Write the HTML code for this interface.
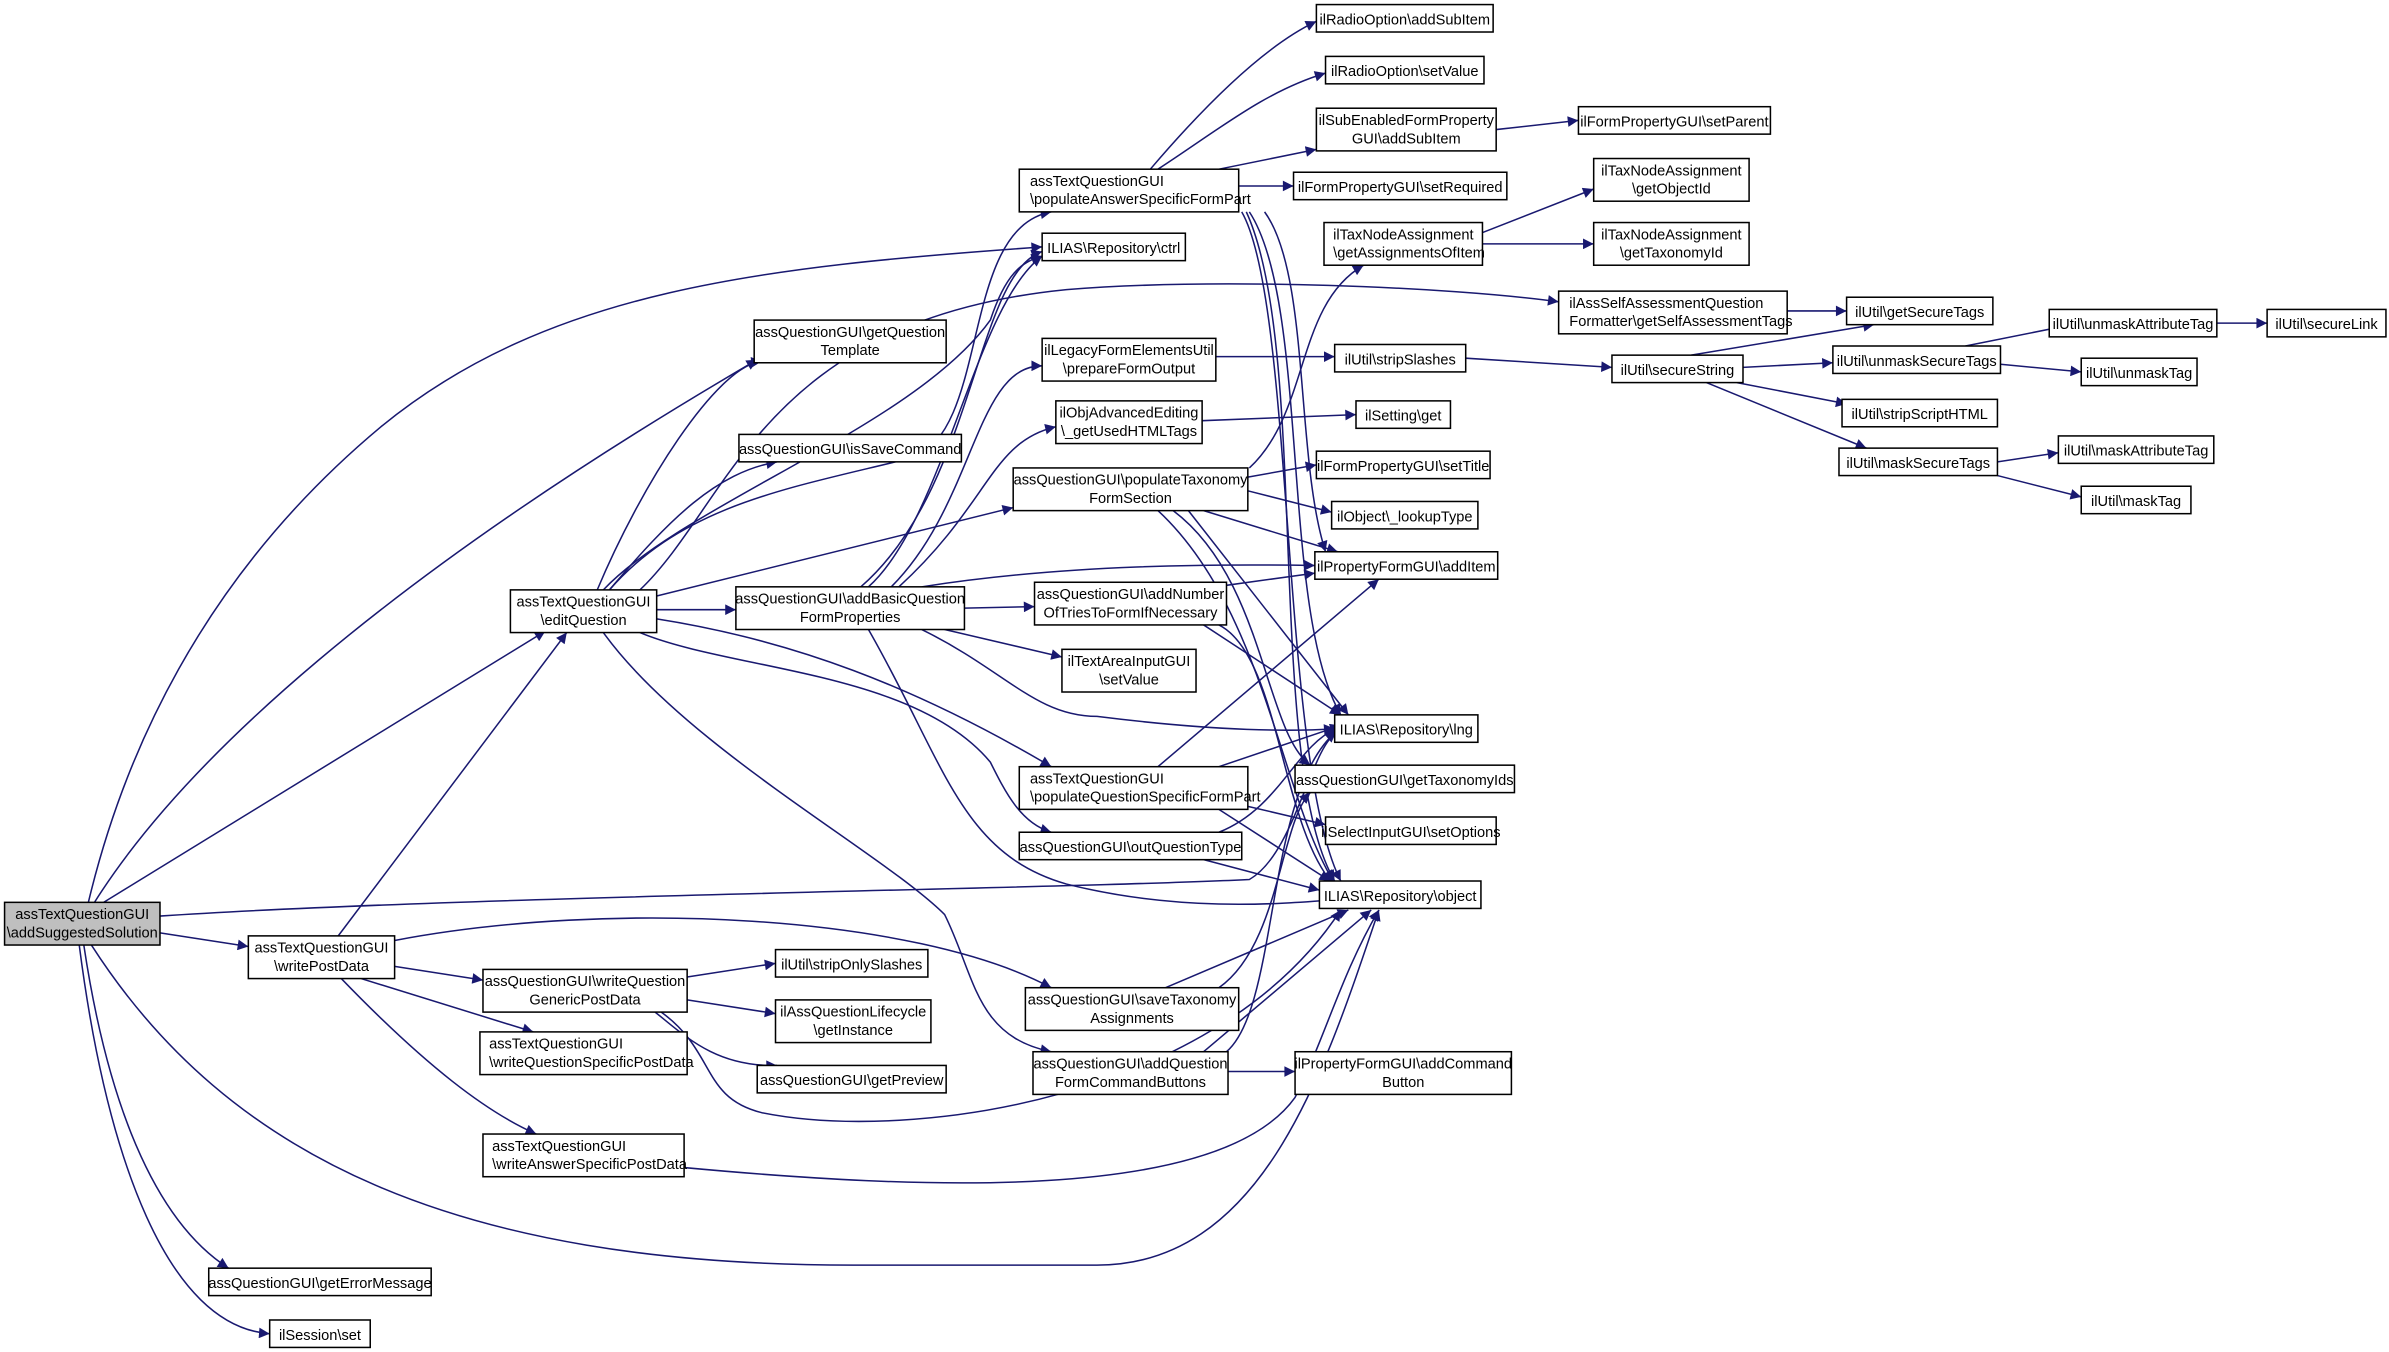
<!DOCTYPE html>
<html><head><meta charset="utf-8"><style>
html,body{margin:0;padding:0;background:#fff;}
svg{display:block;}
text{font-family:"Liberation Sans",Arial,sans-serif;font-size:9.6px;fill:#000;}
.n{fill:#fff;stroke:#000;stroke-width:1;}
.e{fill:none;stroke:#191970;stroke-width:1;}
</style></head><body>
<svg width="2389" height="1352" viewBox="0 0 1568 887" preserveAspectRatio="none" xmlns="http://www.w3.org/2000/svg">
<defs><marker id="a" viewBox="0 0 10 10" refX="10" refY="5" markerWidth="9" markerHeight="7" orient="auto" markerUnits="userSpaceOnUse"><path d="M0,0 L10,5 L0,10 z" fill="#191970"/></marker></defs>
<g class="e" marker-end="url(#a)">
<path d="M58,592 C80,500 130,380 250,280 C360,190 500,175 684,162"/>
<path d="M62,592 C120,500 250,380 497,236"/>
<path d="M68,592 L358,414"/>
<path d="M105,601 C300,588 700,583 820,577 C850,560 860,490 878,480"/>
<path d="M105,612 L163,621"/>
<path d="M60,620 C150,760 300,830 560,830 L720,830 C830,830 870,700 905,597"/>
<path d="M55,620 C70,720 100,800 150,832"/>
<path d="M52,620 C70,760 110,870 177,875"/>
<path d="M222,614 L372,415"/>
<path d="M259,617 C400,590 600,600 690,648"/>
<path d="M259,634 L317,643"/>
<path d="M237,642 L350,677"/>
<path d="M224,642 C280,700 320,730 352,744"/>
<path d="M451,641 L509,632"/>
<path d="M451,656 L509,665"/>
<path d="M430,664 C450,680 470,700 510,699"/>
<path d="M434,664 C470,690 460,720 500,730 C600,750 800,720 880,597"/>
<path d="M449,766 C600,780 800,790 850,720 C870,680 880,640 905,597"/>
<path d="M392,387 C420,320 470,240 500,237"/>
<path d="M400,387 C440,340 470,310 510,303"/>
<path d="M400,387 C450,330 520,320 600,300 C650,280 630,150 690,139"/>
<path d="M396,387 C450,330 600,280 650,210 C660,180 670,172 684,168"/>
<path d="M420,387 C480,330 500,210 700,190 C800,182 950,188 1023,198"/>
<path d="M431,391 L665,333"/>
<path d="M431,400 L483,400"/>
<path d="M431,406 C520,420 600,450 690,503"/>
<path d="M420,415 C480,440 600,440 650,500 C660,520 670,540 690,546"/>
<path d="M396,415 C450,490 580,560 620,600 C640,640 640,680 690,690"/>
<path d="M570,385 C620,340 640,200 684,168"/>
<path d="M565,385 C640,320 640,180 684,165"/>
<path d="M585,385 C640,330 640,240 684,240"/>
<path d="M590,385 C650,330 650,290 693,280"/>
<path d="M605,385 C700,370 800,370 863,371"/>
<path d="M633,399 L679,398"/>
<path d="M620,413 L697,431"/>
<path d="M605,413 C660,440 680,470 720,470 C800,480 850,480 876,478"/>
<path d="M570,413 C620,500 630,560 700,580 C780,600 850,592 880,590"/>
<path d="M755,111 C790,70 830,30 864,14"/>
<path d="M760,111 C800,85 830,60 870,48"/>
<path d="M800,111 L864,98"/>
<path d="M813,122 L849,122"/>
<path d="M830,139 C860,180 850,300 870,362"/>
<path d="M820,139 C860,200 840,400 880,469"/>
<path d="M815,139 C850,200 840,500 880,578"/>
<path d="M818,139 C860,230 830,500 876,578"/>
<path d="M820,307 C860,270 850,200 895,174"/>
<path d="M819,313 L864,305"/>
<path d="M819,322 L874,336"/>
<path d="M790,335 L878,362"/>
<path d="M780,335 L885,469"/>
<path d="M770,335 C830,380 830,480 860,502"/>
<path d="M760,335 C830,400 840,520 875,578"/>
<path d="M798,234 L876,234"/>
<path d="M789,276 L890,272"/>
<path d="M805,384 L863,376"/>
<path d="M790,410 L880,469"/>
<path d="M800,410 C840,430 840,540 875,580"/>
<path d="M760,503 L905,380"/>
<path d="M800,503 L880,476"/>
<path d="M819,529 L870,541"/>
<path d="M800,531 L873,578"/>
<path d="M800,546 C840,530 850,490 877,478"/>
<path d="M790,564 L866,584"/>
<path d="M765,648 L885,597"/>
<path d="M800,648 C840,620 840,540 860,520"/>
<path d="M790,690 L900,597"/>
<path d="M805,690 C840,660 830,520 877,480"/>
<path d="M806,703 L850,703"/>
<path d="M982,85 L1036,79"/>
<path d="M972,153 L1046,124"/>
<path d="M973,160 L1046,160"/>
<path d="M1173,204 L1212,204"/>
<path d="M962,235 L1058,241"/>
<path d="M1110,233 L1230,213"/>
<path d="M1144,241 L1203,238"/>
<path d="M1140,251 L1212,265"/>
<path d="M1120,251 L1225,294"/>
<path d="M1290,227 L1360,213"/>
<path d="M1313,239 L1366,244"/>
<path d="M1455,212 L1488,212"/>
<path d="M1311,303 L1351,297"/>
<path d="M1311,312 L1366,326"/>
</g>
<g>
<rect x="3" y="592" width="102" height="28" fill="#bfbfbf" stroke="#000"/><text x="54" y="603" text-anchor="middle">assTextQuestionGUI</text><text x="54" y="615" text-anchor="middle">\addSuggestedSolution</text>
<rect class="n" x="335" y="387" width="96" height="28"/><text x="383" y="398" text-anchor="middle">assTextQuestionGUI</text><text x="383" y="410" text-anchor="middle">\editQuestion</text>
<rect class="n" x="163" y="614" width="96" height="28"/><text x="211" y="625" text-anchor="middle">assTextQuestionGUI</text><text x="211" y="637" text-anchor="middle">\writePostData</text>
<rect class="n" x="495" y="210" width="126" height="28"/><text x="558" y="221" text-anchor="middle">assQuestionGUI\getQuestion</text><text x="558" y="233" text-anchor="middle">Template</text>
<rect class="n" x="485" y="285" width="146" height="18"/><text x="558" y="298" text-anchor="middle">assQuestionGUI\isSaveCommand</text>
<rect class="n" x="483" y="385" width="150" height="28"/><text x="558" y="396" text-anchor="middle">assQuestionGUI\addBasicQuestion</text><text x="558" y="408" text-anchor="middle">FormProperties</text>
<rect class="n" x="669" y="111" width="144" height="28"/><text x="676" y="122">assTextQuestionGUI</text><text x="676" y="134">\populateAnswerSpecificFormPart</text>
<rect class="n" x="684" y="153" width="94" height="18"/><text x="731" y="166" text-anchor="middle">ILIAS\Repository\ctrl</text>
<rect class="n" x="684" y="222" width="114" height="28"/><text x="741" y="233" text-anchor="middle">ilLegacyFormElementsUtil</text><text x="741" y="245" text-anchor="middle">\prepareFormOutput</text>
<rect class="n" x="693" y="263" width="96" height="28"/><text x="741" y="274" text-anchor="middle">ilObjAdvancedEditing</text><text x="741" y="286" text-anchor="middle">\_getUsedHTMLTags</text>
<rect class="n" x="665" y="307" width="154" height="28"/><text x="742" y="318" text-anchor="middle">assQuestionGUI\populateTaxonomy</text><text x="742" y="330" text-anchor="middle">FormSection</text>
<rect class="n" x="679" y="382" width="126" height="28"/><text x="742" y="393" text-anchor="middle">assQuestionGUI\addNumber</text><text x="742" y="405" text-anchor="middle">OfTriesToFormIfNecessary</text>
<rect class="n" x="697" y="426" width="88" height="28"/><text x="741" y="437" text-anchor="middle">ilTextAreaInputGUI</text><text x="741" y="449" text-anchor="middle">\setValue</text>
<rect class="n" x="669" y="503" width="150" height="28"/><text x="676" y="514">assTextQuestionGUI</text><text x="676" y="526">\populateQuestionSpecificFormPart</text>
<rect class="n" x="669" y="546" width="146" height="18"/><text x="742" y="559" text-anchor="middle">assQuestionGUI\outQuestionType</text>
<rect class="n" x="673" y="648" width="140" height="28"/><text x="743" y="659" text-anchor="middle">assQuestionGUI\saveTaxonomy</text><text x="743" y="671" text-anchor="middle">Assignments</text>
<rect class="n" x="678" y="690" width="128" height="28"/><text x="742" y="701" text-anchor="middle">assQuestionGUI\addQuestion</text><text x="742" y="713" text-anchor="middle">FormCommandButtons</text>
<rect class="n" x="317" y="636" width="134" height="28"/><text x="384" y="647" text-anchor="middle">assQuestionGUI\writeQuestion</text><text x="384" y="659" text-anchor="middle">GenericPostData</text>
<rect class="n" x="315" y="677" width="136" height="28"/><text x="321" y="688">assTextQuestionGUI</text><text x="321" y="700">\writeQuestionSpecificPostData</text>
<rect class="n" x="317" y="744" width="132" height="28"/><text x="323" y="755">assTextQuestionGUI</text><text x="323" y="767">\writeAnswerSpecificPostData</text>
<rect class="n" x="137" y="832" width="146" height="18"/><text x="210" y="845" text-anchor="middle">assQuestionGUI\getErrorMessage</text>
<rect class="n" x="177" y="866" width="66" height="18"/><text x="210" y="879" text-anchor="middle">ilSession\set</text>
<rect class="n" x="509" y="623" width="100" height="18"/><text x="559" y="636" text-anchor="middle">ilUtil\stripOnlySlashes</text>
<rect class="n" x="509" y="656" width="102" height="28"/><text x="560" y="667" text-anchor="middle">ilAssQuestionLifecycle</text><text x="560" y="679" text-anchor="middle">\getInstance</text>
<rect class="n" x="497" y="699" width="124" height="18"/><text x="559" y="712" text-anchor="middle">assQuestionGUI\getPreview</text>
<rect class="n" x="864" y="3" width="116" height="18"/><text x="922" y="16" text-anchor="middle">ilRadioOption\addSubItem</text>
<rect class="n" x="870" y="37" width="104" height="18"/><text x="922" y="50" text-anchor="middle">ilRadioOption\setValue</text>
<rect class="n" x="864" y="71" width="118" height="28"/><text x="923" y="82" text-anchor="middle">ilSubEnabledFormProperty</text><text x="923" y="94" text-anchor="middle">GUI\addSubItem</text>
<rect class="n" x="849" y="113" width="140" height="18"/><text x="919" y="126" text-anchor="middle">ilFormPropertyGUI\setRequired</text>
<rect class="n" x="869" y="146" width="104" height="28"/><text x="875" y="157">ilTaxNodeAssignment</text><text x="875" y="169">\getAssignmentsOfItem</text>
<rect class="n" x="1036" y="70" width="126" height="18"/><text x="1099" y="83" text-anchor="middle">ilFormPropertyGUI\setParent</text>
<rect class="n" x="1046" y="104" width="102" height="28"/><text x="1097" y="115" text-anchor="middle">ilTaxNodeAssignment</text><text x="1097" y="127" text-anchor="middle">\getObjectId</text>
<rect class="n" x="1046" y="146" width="102" height="28"/><text x="1097" y="157" text-anchor="middle">ilTaxNodeAssignment</text><text x="1097" y="169" text-anchor="middle">\getTaxonomyId</text>
<rect class="n" x="1023" y="191" width="150" height="28"/><text x="1030" y="202">ilAssSelfAssessmentQuestion</text><text x="1030" y="214">Formatter\getSelfAssessmentTags</text>
<rect class="n" x="876" y="226" width="86" height="18"/><text x="919" y="239" text-anchor="middle">ilUtil\stripSlashes</text>
<rect class="n" x="890" y="263" width="62" height="18"/><text x="921" y="276" text-anchor="middle">ilSetting\get</text>
<rect class="n" x="864" y="296" width="114" height="18"/><text x="921" y="309" text-anchor="middle">ilFormPropertyGUI\setTitle</text>
<rect class="n" x="874" y="329" width="96" height="18"/><text x="922" y="342" text-anchor="middle">ilObject\_lookupType</text>
<rect class="n" x="863" y="362" width="120" height="18"/><text x="923" y="375" text-anchor="middle">ilPropertyFormGUI\addItem</text>
<rect class="n" x="876" y="469" width="94" height="18"/><text x="923" y="482" text-anchor="middle">ILIAS\Repository\lng</text>
<rect class="n" x="850" y="502" width="144" height="18"/><text x="922" y="515" text-anchor="middle">assQuestionGUI\getTaxonomyIds</text>
<rect class="n" x="870" y="536" width="112" height="18"/><text x="926" y="549" text-anchor="middle">ilSelectInputGUI\setOptions</text>
<rect class="n" x="866" y="578" width="106" height="18"/><text x="919" y="591" text-anchor="middle">ILIAS\Repository\object</text>
<rect class="n" x="850" y="690" width="142" height="28"/><text x="921" y="701" text-anchor="middle">ilPropertyFormGUI\addCommand</text><text x="921" y="713" text-anchor="middle">Button</text>
<rect class="n" x="1212" y="195" width="96" height="18"/><text x="1260" y="208" text-anchor="middle">ilUtil\getSecureTags</text>
<rect class="n" x="1058" y="233" width="86" height="18"/><text x="1101" y="246" text-anchor="middle">ilUtil\secureString</text>
<rect class="n" x="1203" y="227" width="110" height="18"/><text x="1258" y="240" text-anchor="middle">ilUtil\unmaskSecureTags</text>
<rect class="n" x="1209" y="262" width="102" height="18"/><text x="1260" y="275" text-anchor="middle">ilUtil\stripScriptHTML</text>
<rect class="n" x="1207" y="294" width="104" height="18"/><text x="1259" y="307" text-anchor="middle">ilUtil\maskSecureTags</text>
<rect class="n" x="1345" y="203" width="110" height="18"/><text x="1400" y="216" text-anchor="middle">ilUtil\unmaskAttributeTag</text>
<rect class="n" x="1366" y="235" width="76" height="18"/><text x="1404" y="248" text-anchor="middle">ilUtil\unmaskTag</text>
<rect class="n" x="1488" y="203" width="78" height="18"/><text x="1527" y="216" text-anchor="middle">ilUtil\secureLink</text>
<rect class="n" x="1351" y="286" width="102" height="18"/><text x="1402" y="299" text-anchor="middle">ilUtil\maskAttributeTag</text>
<rect class="n" x="1366" y="319" width="72" height="18"/><text x="1402" y="332" text-anchor="middle">ilUtil\maskTag</text>
</g>
</svg>
</body></html>
